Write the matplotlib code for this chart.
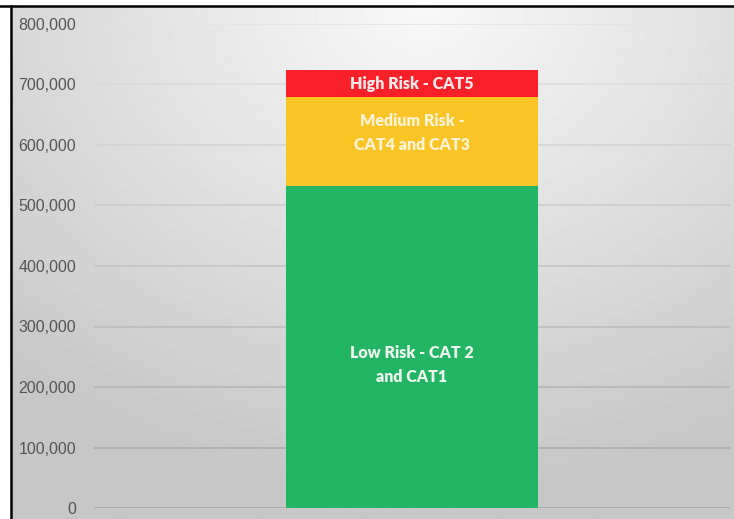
import numpy as np
import matplotlib.pyplot as plt
from matplotlib.ticker import FuncFormatter

# stacked segments, bottom to top
segments = ["Low Risk - CAT 2\nand CAT1", "Medium Risk -\nCAT4 and CAT3", "High Risk - CAT5"]
values = [532000, 147000, 45000]
colors = ["#22b564", "#fcc526", "#f9202a"]
yticks = [0, 100000, 200000, 300000, 400000, 500000, 600000, 700000, 800000]

W, H = 734, 519
fig = plt.figure(figsize=(W / 100, H / 100), dpi=100)
fig.patch.set_facecolor("white")

# grey/white radial backdrop inside the black frame
bg = fig.add_axes([11 / W, 0, 1 - 11 / W, (H - 7) / H])
yy, xx = np.mgrid[0:200, 0:300]
d = np.hypot((xx - 170) / 300, (yy - 0) / 200 * 0.9)
shade = np.clip(0.975 - 0.23 * d, 0.78, 1.0)
bg.imshow(shade, cmap="gray", vmin=0, vmax=1, aspect="auto", interpolation="bilinear")
bg.set_axis_off()

# frame lines
fig.add_artist(plt.Line2D([0, 1], [(H - 6) / H] * 2, color="black", lw=1.8))
fig.add_artist(plt.Line2D([10.5 / W] * 2, [0, (H - 6) / H], color="black", lw=1.8))

ax = fig.add_axes([94 / W, (H - 508) / H, (730 - 94) / W, (508 - 24) / H])
ax.patch.set_alpha(0)
ax.set_xlim(-0.631, 0.631)
ax.set_ylim(0, 800000)

# gridlines get darker towards the bottom like the backdrop
for t in yticks:
    g = 0.64 + 0.25 * t / 800000
    ax.axhline(t, color=(g, g, g), lw=1.1, zorder=1)

bottom = 0
for name, v, c in zip(segments, values, colors):
    ax.bar(0, v, width=0.5, bottom=bottom, color=c, zorder=2)
    bottom += v

# segment labels
lbl = dict(ha="center", va="center", fontsize=11.5, fontweight="heavy", family="Lato",
           linespacing=1.6, zorder=3)
ax.text(0, values[0] * 0.445, segments[0], color="#eef6ee", **lbl)
ax.text(0, values[0] + values[1] * 0.6, segments[1], color="#fdf3d6", **lbl)
ax.text(0, values[0] + values[1] + values[2] * 0.5, segments[2], color="#fbe9e9", **lbl)

ax.set_yticks(yticks)
ax.yaxis.set_major_formatter(FuncFormatter(lambda v, p: f"{int(v):,}"))
ax.tick_params(axis="y", length=0, pad=13, labelsize=11.5, labelcolor="#555555")
for lab in ax.get_yticklabels():
    lab.set_family("Liberation Sans")
ax.set_xticks([])
for s in ax.spines.values():
    s.set_visible(False)

fig.savefig("out.png", dpi=100)
